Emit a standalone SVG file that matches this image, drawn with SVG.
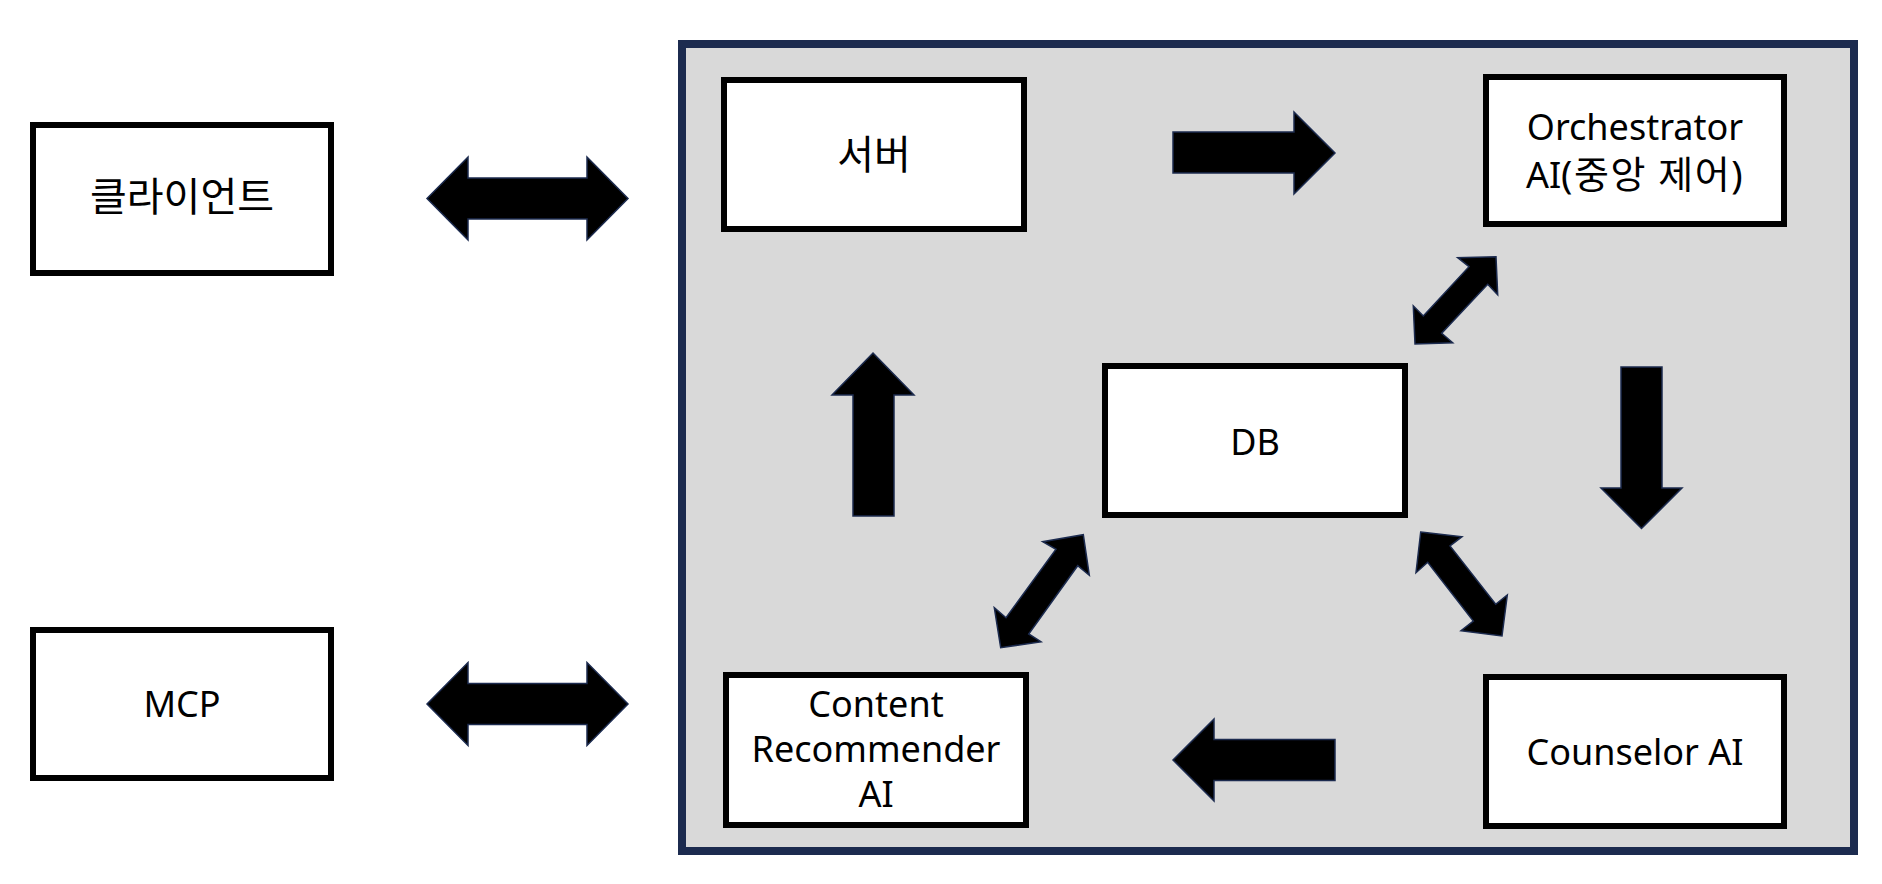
<svg xmlns="http://www.w3.org/2000/svg" width="1882" height="884" viewBox="0 0 1882 884">
  <style>
    .node rect { fill: #ffffff; stroke: #000000; stroke-width: 6; }
    .node text { font-family: "Noto Sans", "Noto Sans CJK KR", sans-serif; font-size: 36px; fill: #000000; text-anchor: middle; }
    .node text.ko { font-size: 40px; }
    .node tspan.ko { font-size: 38px; }
    .arrow { fill: #000000; stroke: #1c2b4f; stroke-width: 1.5; stroke-linejoin: miter; }
  </style>
  <rect width="1882" height="884" fill="#ffffff"/>
  <g id="container">
    <rect x="682" y="44" width="1172" height="807" fill="#d9d9d9" stroke="#1c2b4f" stroke-width="8"/>
  </g>
  <g id="connectors">
    <polygon class="arrow" points="427,198.5 468,157 468,178 587,178 587,157 628,198.5 587,240 587,219 468,219 468,240"/>
    <polygon class="arrow" points="427,704 468,662.5 468,683.5 587,683.5 587,662.5 628,704 587,745.5 587,724.5 468,724.5 468,745.5"/>
    <polygon class="arrow" points="1173,132 1294,132 1294,112 1335,153 1294,194 1294,173 1173,173"/>
    <polygon class="arrow" points="1335,739.5 1214,739.5 1214,719 1173,760 1214,801 1214,780.5 1335,780.5"/>
    <polygon class="arrow" points="873,353 914,395 894,395 894,516 853,516 853,395 832,395"/>
    <polygon class="arrow" points="1621,367 1662,367 1662,488 1682,488 1641.5,528.5 1601,488 1621,488"/>
    <polygon class="arrow" points="1496,256.7 1497.7,294.7 1487.7,284.3 1441.7,333.3 1452.7,342.7 1415,344 1413.3,306 1423.3,316 1469,266.7 1457.7,257.7"/>
    <polygon class="arrow" points="1083.3,534.7 1089.3,575.3 1077.7,565.7 1028.7,634 1041,641.7 1000.7,647.7 994.3,607.7 1006,617.7 1056,549.3 1042.7,541.7"/>
    <polygon class="arrow" points="1420.7,532 1462,536.7 1450,546 1495.7,604.3 1507.3,595 1502,636 1461,630.7 1473.3,621 1427.7,562.3 1416,572.7"/>
  </g>
  <g id="client" class="node">
    <rect x="33" y="125" width="298" height="148"/>
    <text class="ko" x="182" y="211">클라이언트</text>
  </g>
  <g id="mcp" class="node">
    <rect x="33" y="630" width="298" height="148"/>
    <text x="182" y="717">MCP</text>
  </g>
  <g id="server" class="node">
    <rect x="724" y="80" width="300" height="149"/>
    <text class="ko" x="874" y="169">서버</text>
  </g>
  <g id="orchestrator" class="node">
    <rect x="1486" y="77" width="298" height="147"/>
    <text x="1635" y="140">Orchestrator</text>
    <text x="1635" y="188">AI<tspan class="ko" letter-spacing="1.5">(중앙 제어)</tspan></text>
  </g>
  <g id="db" class="node">
    <rect x="1105" y="366" width="300" height="149"/>
    <text x="1255" y="455">DB</text>
  </g>
  <g id="content-recommender" class="node">
    <rect x="726" y="675" width="300" height="150"/>
    <text x="876" y="717">Content</text>
    <text x="876" y="762">Recommender</text>
    <text x="876" y="806.5">AI</text>
  </g>
  <g id="counselor" class="node">
    <rect x="1486" y="677" width="298" height="149"/>
    <text x="1635" y="765">Counselor AI</text>
  </g>
</svg>
